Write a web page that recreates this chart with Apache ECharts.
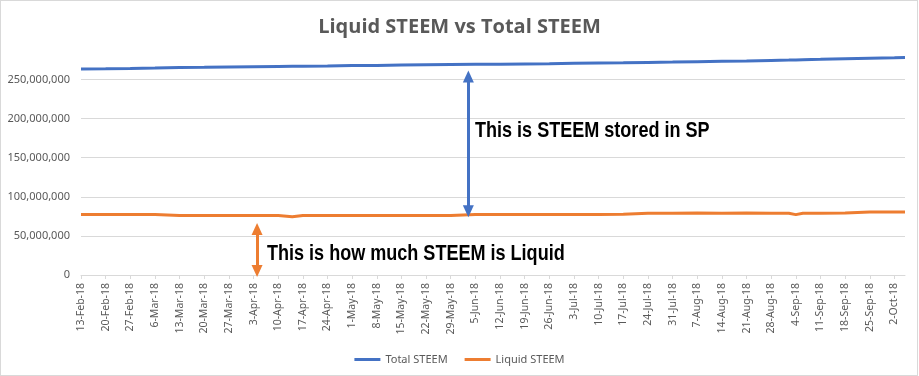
<!DOCTYPE html>
<html>
<head>
<meta charset="utf-8">
<title>Liquid STEEM vs Total STEEM</title>
<script src="https://cdn.jsdelivr.net/npm/echarts@6/dist/echarts.min.js"></script>
<style>
  html, body { margin: 0; padding: 0; background: #fff; }
  #chart { width: 919px; height: 376px; }
  .frame { position: absolute; left: 0; top: 0; width: 916px; height: 374px; border: 1px solid #d9d9d9; pointer-events: none; }
</style>
</head>
<body>
<div id="chart"></div>
<div class="frame"></div>
<script>
// day 0 = 13-Feb-18, labels every 7 days
const tickLabels = ['13-Feb-18', '20-Feb-18', '27-Feb-18', '6-Mar-18', '13-Mar-18', '20-Mar-18', '27-Mar-18',
  '3-Apr-18', '10-Apr-18', '17-Apr-18', '24-Apr-18', '1-May-18', '8-May-18', '15-May-18', '22-May-18',
  '29-May-18', '5-Jun-18', '12-Jun-18', '19-Jun-18', '26-Jun-18', '3-Jul-18', '10-Jul-18', '17-Jul-18',
  '24-Jul-18', '31-Jul-18', '7-Aug-18', '14-Aug-18', '21-Aug-18', '28-Aug-18', '4-Sep-18', '11-Sep-18',
  '18-Sep-18', '25-Sep-18', '2-Oct-18']

const days = [0, 7, 14, 21, 28, 35, 42, 49, 56, 60, 63, 70, 77, 84, 91, 98, 105, 112, 119, 126, 133, 140,
  147, 154, 161, 168, 175, 182, 189, 196, 201, 203, 205, 210, 217, 224, 231, 234]

const totalSteem = [263300000, 263600000, 264000000, 264600000, 265300000, 265600000, 266000000, 266400000,
  266700000, 266900000, 267000000, 267300000, 267700000, 268000000, 268400000, 268700000, 269000000,
  269300000, 269600000, 269900000, 270200000, 270600000, 271000000, 271300000, 271800000, 272200000,
  272700000, 273200000, 273700000, 274400000, 274800000, 275000000, 275200000, 275700000, 276500000,
  277200000, 277800000, 278100000]

const liquidSteem = [77400000, 77400000, 77300000, 77200000, 76200000, 76100000, 76000000, 76000000,
  76000000, 74500000, 76000000, 76100000, 76100000, 76000000, 76100000, 76000000, 76200000, 77400000,
  77400000, 77500000, 77400000, 77500000, 77500000, 77600000, 79000000, 79100000, 79200000, 79100000,
  79200000, 79100000, 79000000, 77200000, 79000000, 79100000, 79300000, 80400000, 80500000, 80500000]

// annotation arrows (day, from value, to value)
const spArrow = [110, 81600000, 253800000]
const liquidArrow = [50, 5100000, 58700000]

const tickDays = tickLabels.map((_, i) => i * 7)
const blue = '#4472C4'
const orange = '#ED7D31'
const gray = '#595959'
// no narrow font installed: squeeze Liberation Sans Bold instead
const noteFont = 'bold 22px "Liberation Sans", Arial, sans-serif'

function arrow(a, color) {
  return {
    silent: true,
    animation: false,
    symbol: ['triangle', 'triangle'],
    symbolSize: [11, 12],
    label: {show: false},
    lineStyle: {color: color, width: 3, type: 'solid'},
    data: [[{coord: [a[0], a[1]]}, {coord: [a[0], a[2]]}]]
  }
}

const myChart = echarts.init(document.getElementById('chart'))
const option = {
  animation: false,
  title: {
    text: 'Liquid STEEM vs Total STEEM',
    left: 'center',
    top: 12,
    textStyle: {color: gray, fontSize: 20, fontWeight: 'bold', fontFamily: 'Open Sans'}
  },
  legend: {
    top: 349,
    left: 'center',
    icon: 'rect',
    itemWidth: 26,
    itemHeight: 3,
    itemGap: 17,
    textStyle: {color: gray, fontSize: 11, fontFamily: 'Noto Sans'},
    data: ['Total STEEM', 'Liquid STEEM']
  },
  grid: {left: 81, right: 14, top: 56, bottom: 101},
  xAxis: {
    type: 'value',
    min: 0,
    max: 234,
    axisLine: {lineStyle: {color: '#d9d9d9'}},
    axisTick: {show: true, length: 4, customValues: tickDays, lineStyle: {color: '#d9d9d9'}},
    axisLabel: {
      customValues: tickDays,
      rotate: 90,
      margin: 8,
      color: gray,
      fontSize: 10.5,
      fontFamily: 'Noto Sans',
      formatter: v => tickLabels[Math.round(v / 7)]
    },
    splitLine: {show: false}
  },
  yAxis: {
    type: 'value',
    min: 0,
    max: 280000000,
    interval: 50000000,
    axisLine: {show: false},
    axisTick: {show: false},
    axisLabel: {
      showMaxLabel: false,
      margin: 11,
      color: gray,
      fontSize: 11,
      fontFamily: 'Noto Sans',
      formatter: v => v.toLocaleString('en-US')
    },
    splitLine: {showMaxLine: false, lineStyle: {color: '#d9d9d9'}}
  },
  series: [
    {
      name: 'Total STEEM',
      type: 'line',
      showSymbol: false,
      color: blue,
      lineStyle: {width: 3, color: blue},
      data: days.map((d, i) => [d, totalSteem[i]]),
      markLine: arrow(spArrow, blue)
    },
    {
      name: 'Liquid STEEM',
      type: 'line',
      showSymbol: false,
      color: orange,
      lineStyle: {width: 3, color: orange},
      data: days.map((d, i) => [d, liquidSteem[i]]),
      markLine: arrow(liquidArrow, orange)
    }
  ],
  graphic: [
    {type: 'text', x: 475, y: 120, scaleX: 0.82, z: 100,
      style: {text: 'This is STEEM stored in SP', font: noteFont, fill: '#000'}},
    {type: 'text', x: 267, y: 243, scaleX: 0.82, z: 100,
      style: {text: 'This is how much STEEM is Liquid', font: noteFont, fill: '#000'}}
  ]
}
myChart.setOption(option)
</script>
</body>
</html>
